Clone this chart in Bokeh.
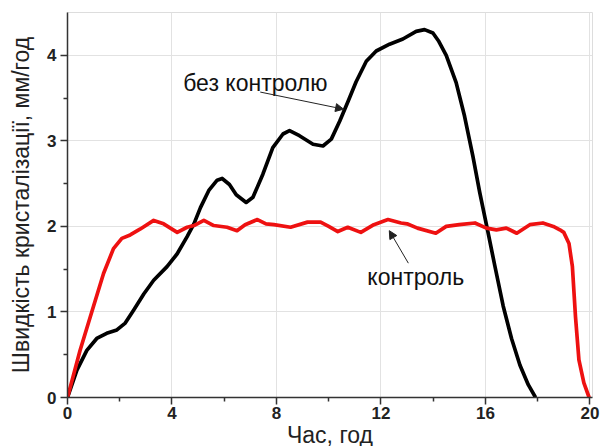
from bokeh.plotting import figure
from bokeh.models import FixedTicker, Range1d, Arrow, NormalHead
from bokeh.core.properties import value
from bokeh.embed import file_html
from bokeh.resources import INLINE

# без контролю (black)
t_free = [0, 0.36, 0.74, 1.12, 1.5, 1.89, 2.21, 2.53, 2.92, 3.3, 3.81, 4.2, 4.58, 4.84, 5.09,
          5.41, 5.73, 5.92, 6.2, 6.46, 6.84, 7.1, 7.48, 7.86, 8.25, 8.5, 8.88, 9.4, 9.78,
          10.1, 10.42, 10.74, 11.05, 11.44, 11.82, 12.33, 12.84, 13.35, 13.67, 13.99, 14.2,
          14.5, 14.88, 15.2, 15.52, 15.78, 16.1, 16.36, 16.68, 17.0, 17.32, 17.64, 17.92]
v_free = [0, 0.32, 0.55, 0.69, 0.75, 0.79, 0.87, 1.02, 1.21, 1.37, 1.53, 1.68, 1.88, 2.03, 2.22,
          2.42, 2.54, 2.56, 2.49, 2.37, 2.28, 2.34, 2.61, 2.92, 3.08, 3.12, 3.06, 2.96, 2.94,
          3.02, 3.23, 3.46, 3.69, 3.93, 4.05, 4.13, 4.19, 4.28, 4.30, 4.26, 4.17,
          4.00, 3.68, 3.29, 2.82, 2.40, 1.93, 1.54, 1.07, 0.69, 0.38, 0.15, 0]

# контроль (red)
t_ctrl = [0, 0.48, 0.99, 1.38, 1.76, 2.08, 2.4, 2.79, 3.3, 3.68, 4.2, 4.58, 4.84, 5.22, 5.6,
          6.11, 6.49, 6.8, 7.27, 7.6, 7.9, 8.54, 9.19, 9.69, 10.0, 10.35, 10.73, 11.23, 11.73,
          12.27, 12.77, 13.0, 13.4, 14.1, 14.5, 15.0, 15.6, 16.04, 16.42, 16.8, 17.2, 17.7,
          18.2, 18.6, 18.85, 19.0, 19.2, 19.33, 19.45, 19.58, 19.77, 19.97]
v_ctrl = [0, 0.55, 1.06, 1.45, 1.74, 1.86, 1.90, 1.97, 2.07, 2.03, 1.93, 1.99, 2.01, 2.07, 2.01,
          1.99, 1.95, 2.02, 2.08, 2.03, 2.02, 1.99, 2.05, 2.05, 2.0, 1.94, 1.99, 1.93, 2.02,
          2.08, 2.04, 2.03, 1.98, 1.92, 2.0, 2.02, 2.04, 1.98, 1.96, 1.98, 1.92, 2.02,
          2.04, 2.0, 1.96, 1.93, 1.80, 1.53, 0.94, 0.44, 0.17, 0]

x_ticks = [0, 4, 8, 12, 16, 20]
x_minor = [2, 6, 10, 14, 18]
y_ticks = [0, 1, 2, 3, 4]
y_minor = [0.5, 1.5, 2.5, 3.5]

FONT = "Liberation Sans"

p = figure(frame_width=525, frame_height=385, output_backend="svg", toolbar_location=None,
           x_range=Range1d(0, 20.1), y_range=Range1d(0, 4.5),
           min_border_left=67, min_border_right=8, min_border_top=12, min_border_bottom=49)
p.background_fill_color = "white"
p.border_fill_color = "white"
p.outline_line_color = "#dddddd"

p.line(t_free, v_free, line_color="black", line_width=3.7, line_join="round")
p.line(t_ctrl, v_ctrl, line_color="#ee1111", line_width=3.7, line_join="round")

for ax in (p.xaxis[0], p.yaxis[0]):
    ax.axis_line_color = "#333333"
    ax.axis_line_width = 1.5
    ax.major_tick_line_color = "#333333"
    ax.minor_tick_line_color = "#333333"
    ax.major_tick_line_width = 1.5
    ax.minor_tick_line_width = 1.5
    ax.major_tick_out = 7
    ax.major_tick_in = 0
    ax.minor_tick_out = 4
    ax.minor_tick_in = 0
    ax.major_label_text_font = FONT
    ax.major_label_text_font_style = "bold"
    ax.major_label_text_font_size = "17px"
    ax.major_label_text_color = "#222222"
    ax.axis_label_text_font = FONT
    ax.axis_label_text_font_style = "normal"
    ax.axis_label_text_font_size = "23px"
    ax.axis_label_text_color = "#222222"

p.xaxis.ticker = FixedTicker(ticks=x_ticks, minor_ticks=x_minor)
p.yaxis.ticker = FixedTicker(ticks=y_ticks, minor_ticks=y_minor)
p.xaxis.axis_label = "Час, год"
p.yaxis.axis_label = "Швидкість кристалізації, мм/год"
p.xaxis.major_label_standoff = 2
p.xaxis.axis_label_standoff = 0
p.yaxis.major_label_standoff = 4
p.yaxis.axis_label_standoff = 10

p.xgrid.ticker = FixedTicker(ticks=x_ticks)
p.ygrid.ticker = FixedTicker(ticks=y_ticks)
p.grid.grid_line_color = "#e2e2e2"
p.grid.grid_line_width = 1

p.text(x=[4.43], y=[3.68], text=["без контролю"], text_font=value(FONT),
       text_font_size="23px", text_baseline="middle", text_align="left", text_color="#111111")
p.text(x=[11.48], y=[1.41], text=["контроль"], text_font=value(FONT),
       text_font_size="23px", text_baseline="middle", text_align="left", text_color="#111111")

p.add_layout(Arrow(end=NormalHead(size=8, fill_color="#222222", line_color="#222222"),
                   x_start=7.38, y_start=3.57, x_end=10.57, y_end=3.37,
                   line_color="#222222", line_width=1))
p.add_layout(Arrow(end=NormalHead(size=8, fill_color="#222222", line_color="#222222"),
                   x_start=13.05, y_start=1.57, x_end=12.32, y_end=1.95,
                   line_color="#222222", line_width=1))

open("out.html", "w").write(file_html(p, INLINE))
